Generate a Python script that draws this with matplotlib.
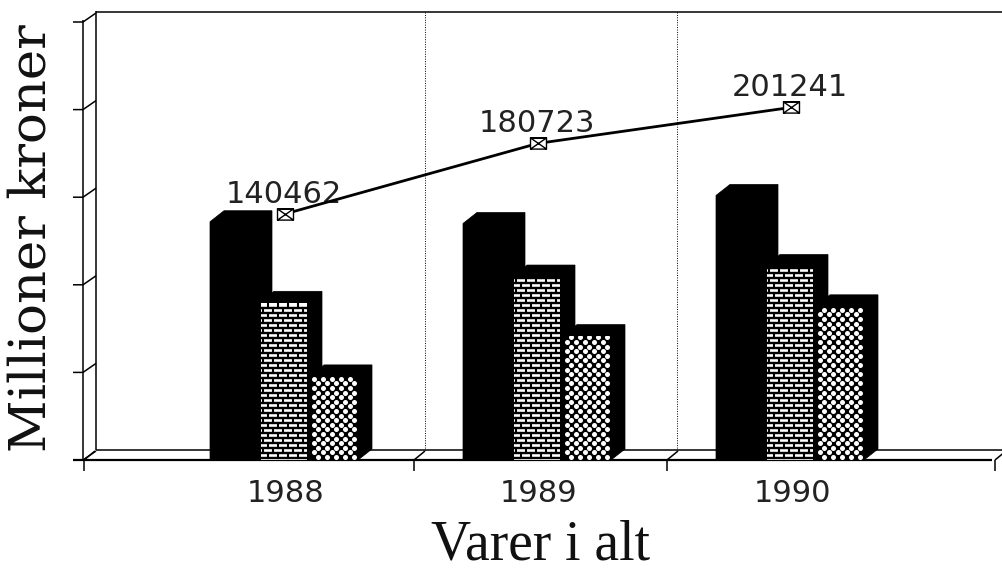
import numpy as np
from matplotlib import pyplot as plt
from matplotlib.patches import Polygon, Rectangle
from matplotlib.path import Path

years = ['1988', '1989', '1990']
total = [140462, 180723, 201241]
solid = [136000, 135000, 151000]
brick = [90000, 105000, 111000]
dots = [48000, 71000, 88000]
y_ticks = [0, 50000, 100000, 150000, 200000, 250000]

W, H = 1002, 573
BASE = 460      # pixel row of value 0
SCALE = 1.752 / 1000    # pixels per krone
DX, DY = 14, 11     # depth of the 3d effect in pixels


def val(py):
    return (BASE - py) / SCALE


def line(ax, xs, pys, lw=1.1, **kw):
    ax.plot(xs, [val(p) for p in pys], color='k', lw=lw, solid_capstyle='butt', **kw)


def bar3d(ax, x0, x1, v):
    dy = DY / SCALE
    pts = [(x0, 0), (x0, v), (x0 + DX, v + dy), (x1 + DX, v + dy), (x1 + DX, val(BASE - DY)), (x1, 0)]
    ax.add_patch(Polygon(pts, closed=True, fc='k', ec='k', lw=0.5, zorder=3))


def brick_fill(ax, x0, x1, v):
    clip = Rectangle((x0 + 1, 0), x1 - x0 - 2, v - 1 / SCALE, fc='w', ec='none', zorder=4)
    ax.add_patch(clip)
    rows = np.arange(BASE - 2, BASE - v * SCALE + 1, -5.0)
    for i, r in enumerate(rows):
        l = ax.plot([x0, x1], [val(r), val(r)], color='k', lw=1.7, zorder=5)[0]
        l.set_clip_path(clip)
        start = x0 + (3 if i % 2 else 8)
        for x in np.arange(start, x1, 10):
            l = ax.plot([x, x], [val(r), val(r - 5)], color='k', lw=1.5, zorder=5)[0]
            l.set_clip_path(clip)


def dot_fill(ax, x0, x1, v):
    clip = Rectangle((x0, 0), x1 - x0, v, transform=ax.transData)
    xs, ys = [], []
    rows = np.arange(BASE - 3, BASE - v * SCALE + 1, -4.6)
    for i, r in enumerate(rows):
        for x in np.arange(x0 + (3 if i % 2 else 7.5), x1 - 1, 9):
            xs.append(x)
            ys.append(val(r))
    s = ax.scatter(xs, ys, s=13, c='w', linewidths=0, zorder=4)
    s.set_clip_path(clip)


fig = plt.figure(figsize=(W / 100, H / 100), dpi=100)
ax = fig.add_axes([0, 0, 1, 1])
ax.set_xlim(0, W)
ax.set_ylim(val(H), val(0))
ax.axis('off')

# back wall, floor and front axis
line(ax, [96, 96], [11, BASE - 10])
line(ax, [96, W], [12, 12])
line(ax, [83, 83], [20, BASE])
line(ax, [73, 992], [BASE, BASE], lw=1.6)
line(ax, [96, W], [BASE - 10, BASE - 10])
for t in y_ticks:
    p = BASE - t * SCALE
    line(ax, [73, 83, 96], [p, p, p - 9])
for x in [84, 414, 667, 995]:
    line(ax, [x, x], [BASE, BASE + 11])
    line(ax, [x, x + 11], [BASE, BASE - 9])
for x in [425, 677]:
    line(ax, [x, x], [12, BASE - 10], lw=0.7, ls=(0, (1, 1.5)))

for i, year in enumerate(years):
    c = 285 + 253 * i
    bar3d(ax, c + 25, c + 73, dots[i])
    dot_fill(ax, c + 26, c + 73, dots[i])
    bar3d(ax, c - 25, c + 23, brick[i])
    brick_fill(ax, c - 25, c + 23, brick[i])
    bar3d(ax, c - 75, c - 27, solid[i])
    ax.text(c + 1, val(493), year, ha='center', va='center', fontsize=22,
            family='DejaVu Sans', color='#222222')

# line with boxed markers
xs = [285 + 253 * i for i in range(len(years))]
box = Path([(-1, -.7), (1, -.7), (1, .7), (-1, .7), (-1, -.7), (1, .7), (-1, .7), (1, -.7)],
           [Path.MOVETO, Path.LINETO, Path.LINETO, Path.LINETO, Path.LINETO,
            Path.LINETO, Path.LINETO, Path.LINETO])
ax.plot(xs, total, color='k', lw=2.0, zorder=6)
ax.plot(xs, total, ls='none', marker=box, ms=11.5, mfc='w', mec='k', mew=1.0, zorder=7)
for x, v in zip(xs, total):
    ax.text(x - 1, v + 3000, str(v), ha='center', va='bottom', fontsize=22,
            family='DejaVu Sans', color='#222222', zorder=5)

ax.text(32, val(238), 'Millioner kroner', rotation=90, ha='center', va='center',
        fontsize=37, family='DejaVu Serif', color='#111111')
ax.text(541, val(546), 'Varer i alt', ha='center', va='center',
        fontsize=40, family='Liberation Serif', color='#111111')

fig.savefig('out.png', dpi=100)
